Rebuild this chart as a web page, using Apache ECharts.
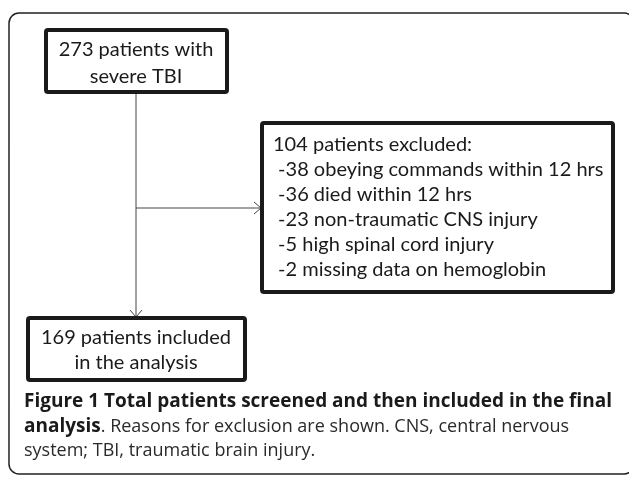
<!DOCTYPE html>
<html><head><meta charset="utf-8">
<script src="https://cdn.jsdelivr.net/npm/echarts@6/dist/echarts.min.js"></script>
<style>html,body{margin:0;padding:0;background:#fff}#c{width:629px;height:477px}</style>
</head><body><div id="c"></div>
<script>
// Data
var screenedCount = 273;
var excludedCount = 104;
var includedCount = 169;
var screenedLines = [screenedCount + ' patients with', 'severe TBI'];
var includedLines = [includedCount + ' patients included', 'in the analysis'];
var exclusionCounts = [38, 36, 23, 5, 2];
var exclusionReasons = ['obeying commands within 12 hrs', 'died within 12 hrs', 'non-traumatic CNS injury', 'high spinal cord injury', 'missing data on hemoglobin'];
var captionBold = 'Figure 1 Total patients screened and then included in the final';
var captionLine2Bold = 'analysis';
var captionLine2 = '. Reasons for exclusion are shown. CNS, central nervous';
var captionLine3 = 'system; TBI, traumatic brain injury.';

var boxFont = 'Lato, "Open Sans", sans-serif';
var capFont = '"Open Sans", sans-serif';
var ink = '#1a1a1a';
var capInk = '#2a2a2a';

var excludedLines = [excludedCount + ' patients excluded:'].concat(
  exclusionCounts.map(function (n, i) { return ' -' + n + ' ' + exclusionReasons[i]; }));

function box(x, y, w, h) {
  return { type: 'rect', shape: { x: x, y: y, width: w, height: h, r: 2 },
    style: { fill: '#fff', stroke: ink, lineWidth: 4 } };
}
function txt(x, y, t, align, size, weight, font, color) {
  return { type: 'text', x: x, y: y, style: { text: t, align: align, verticalAlign: 'middle',
    fill: color || ink, font: (weight || 'normal') + ' ' + (size || 20) + 'px ' + (font || boxFont) } };
}
function line(x1, y1, x2, y2) {
  return { type: 'line', shape: { x1: x1, y1: y1, x2: x2, y2: y2 }, style: { stroke: '#444', lineWidth: 1 } };
}
function poly(pts) {
  return { type: 'polyline', shape: { points: pts }, style: { stroke: '#444', lineWidth: 1, fill: null } };
}

var els = [];
// outer frame
els.push({ type: 'rect', shape: { x: 9, y: 13, width: 625, height: 461, r: 10 }, style: { fill: null, stroke: '#222', lineWidth: 1.5 } });
// connectors
els.push(line(136, 92, 136, 318));
els.push(poly([[130, 310], [136, 317], [142, 310]]));
els.push(line(136, 208, 262, 208));
els.push(poly([[254, 202], [261, 208], [254, 214]]));
// boxes
els.push(box(46, 30, 181, 62));
els.push(box(262, 123, 351, 169));
els.push(box(28, 318, 217, 62));
// texts
els.push(txt(136, 50, screenedLines[0], 'center'));
els.push(txt(136, 77, screenedLines[1], 'center'));
excludedLines.forEach(function (t, i) { els.push(txt(273, 145 + i * 25, t, 'left')); });
els.push(txt(136, 338, includedLines[0], 'center'));
els.push(txt(136, 363, includedLines[1], 'center'));
// caption
els.push(txt(24, 402, captionBold, 'left', 19, 'bold', capFont, ink));
els.push({ type: 'text', x: 24, y: 427, style: {
  text: '{b|' + captionLine2Bold + '}{r|' + captionLine2 + '}', verticalAlign: 'middle', fill: capInk,
  rich: { b: { font: 'bold 19px ' + capFont, fill: ink }, r: { font: 'normal 18px ' + capFont, fill: capInk } } } });
els.push(txt(24, 451, captionLine3, 'left', 18, 'normal', capFont, capInk));

var chart = echarts.init(document.getElementById('c'), null, { renderer: 'canvas' });
chart.setOption({ backgroundColor: '#fff', animation: false, graphic: { elements: els } });
</script></body></html>
